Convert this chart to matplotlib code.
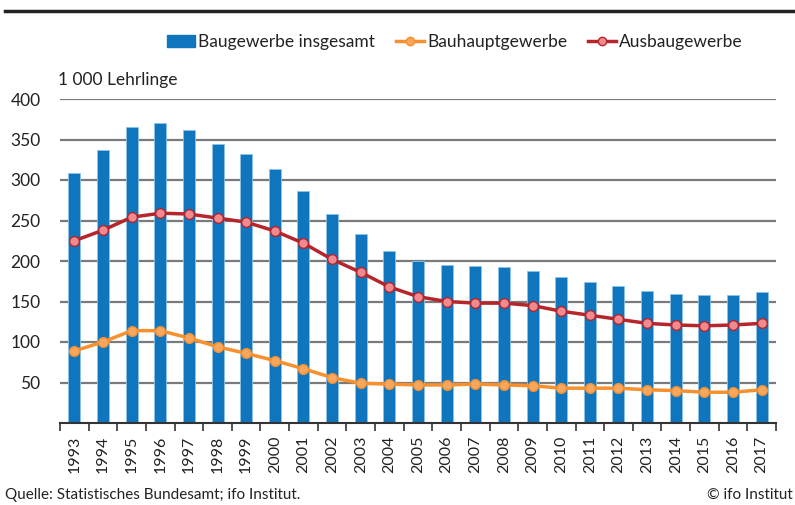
import numpy as np
import matplotlib.pyplot as plt
from matplotlib.lines import Line2D
from matplotlib.patches import Patch

plt.rcParams['font.family'] = ['Lato', 'DejaVu Sans']

years = [str(y) for y in range(1993, 2018)]
gesamt = [309, 337, 365, 370, 362, 344, 332, 313, 286, 258, 233, 212, 200,
          195, 194, 193, 188, 180, 174, 169, 163, 159, 158, 158, 162]
ausbau = [225, 238, 254, 259, 258, 253, 248, 237, 222, 202, 186, 168, 156,
          150, 148, 148, 145, 138, 133, 128, 123, 121, 120, 121, 123]
bauhaupt = [89, 100, 114, 114, 105, 94, 86, 77, 67, 56, 49, 48, 47,
            47, 48, 47, 46, 43, 43, 43, 41, 40, 38, 38, 41]

blue = '#0F75BC'
orange = '#F7902F'
red = '#B5252B'

fig = plt.figure(figsize=(7.95, 5.05), dpi=100)
ax = fig.add_axes([60 / 795, 1 - 423 / 505, 716 / 795, 324 / 505])

# Balken + zwei Linien
x = np.arange(len(years))
ax.bar(x, gesamt, width=0.42, color=blue, edgecolor='#8DC3E8', linewidth=0.6, zorder=2)
ax.plot(x, bauhaupt, color=orange, lw=2.5, marker='o', ms=7,
        mfc='#F9A75E', mec='#F7902F', mew=1, zorder=3)
ax.plot(x, ausbau, color=red, lw=2.5, marker='o', ms=7,
        mfc='#F08A8E', mec=red, mew=1, zorder=3)

ax.set_xlim(-0.5, len(years) - 0.5)
ax.set_ylim(0, 400)
ax.set_yticks(range(50, 401, 50))
ax.tick_params(axis='y', length=0, labelsize=12.5, colors='#222222', pad=14)
ax.yaxis.grid(True, color='#7A7A7A', lw=1.6, zorder=0)
ax.set_axisbelow(True)

ax.set_xticks(x)
ax.set_xticklabels(years, rotation=90, fontsize=11.5, color='#222222')
ax.set_xticks(np.arange(-0.5, len(years)), minor=True)
ax.tick_params(axis='x', which='major', length=0, pad=9)
ax.tick_params(axis='x', which='minor', length=6, width=1.2, color='#333333')

for s in ['top', 'right', 'left']:
    ax.spines[s].set_visible(False)
ax.spines['bottom'].set_color('#333333')
ax.spines['bottom'].set_linewidth(1.5)

fig.text(58 / 795, 1 - 80 / 505, '1 000 Lehrlinge', fontsize=12.5, color='#222222', va='center')

handles = [Patch(color=blue),
           Line2D([], [], color=orange, lw=2.5, marker='o', ms=6, mfc='#F9A75E', mec=orange),
           Line2D([], [], color=red, lw=2.5, marker='o', ms=6, mfc='#F08A8E', mec=red)]
fig.legend(handles, ['Baugewerbe insgesamt', 'Bauhauptgewerbe', 'Ausbaugewerbe'],
           loc='center', bbox_to_anchor=(455 / 795, 1 - 42 / 505), ncol=3, frameon=False,
           fontsize=12.5, handlelength=1.6, handletextpad=0.2, columnspacing=1.2,
           labelcolor='#222222')

fig.add_artist(Line2D([5 / 795, 1], [1 - 11 / 505, 1 - 11 / 505], color='#222222', lw=2.5))

fig.text(5 / 795, 1 - 495 / 505, 'Quelle: Statistisches Bundesamt; ifo Institut.',
         fontsize=11, color='#222222', va='center')
fig.text(793 / 795, 1 - 495 / 505, '© ifo Institut', fontsize=11, color='#222222',
         va='center', ha='right')

fig.savefig('out.png', dpi=100)
